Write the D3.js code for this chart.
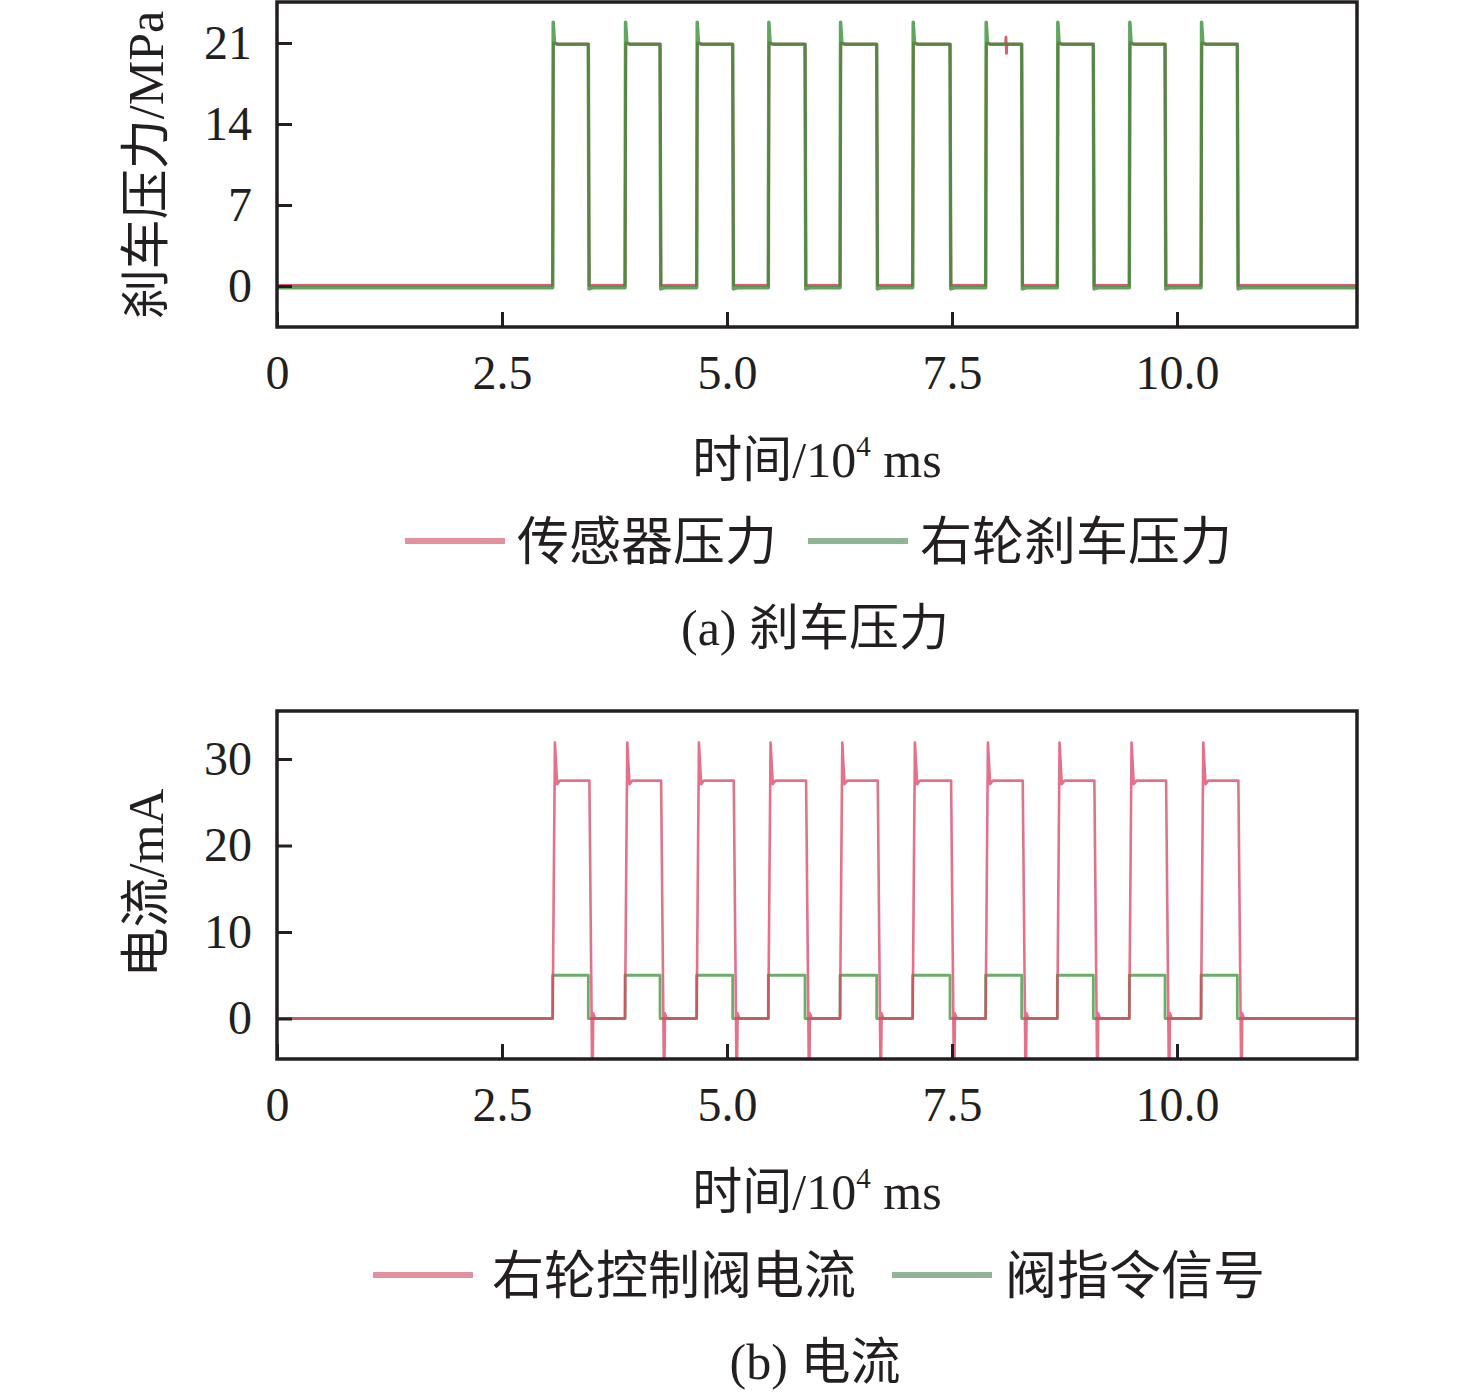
<!DOCTYPE html>
<html lang="zh">
<head>
<meta charset="UTF-8" />
<title>刹车压力与电流</title>
<script src="https://cdn.jsdelivr.net/npm/d3@7"></script>
<style>
  body { margin: 0; background: #fff; overflow: hidden; }
  text { font-family: "Liberation Serif", "Noto Sans CJK SC", serif; fill: #231f20; }
</style>
</head>
<body>
<svg width="1476" height="1400"></svg>
<script>
// edges of the ten valve pulses (10^4 ms)
var riseTimes = [3.063, 3.867, 4.663, 5.459, 6.256, 7.063, 7.874, 8.670, 9.470, 10.267];
var fallTimes = [3.459, 4.256, 5.063, 5.867, 6.663, 7.478, 8.274, 9.070, 9.867, 10.670];

var xDomain = [0, 12];
var xTicks = [0, 2.5, 5, 7.5, 10];
var xTickLabels = ["0", "2.5", "5.0", "7.5", "10.0"];

var pressureDomain = [-3.54, 24.54];
var pressureTicks = [0, 7, 14, 21];
var currentDomain = [-4.68, 35.55];
var currentTicks = [0, 10, 20, 30];

// pulse shapes: [time after edge, value]
var wheelBase = -0.15;
var wheelRise = [[0, -0.15], [0.006, 22.8], [0.02, 21.0], [0.05, 20.9]];
var wheelFall = [[0, 20.9], [0.008, -0.25], [0.05, -0.15]];
var sensorBase = 0.05;
var sensorRise = [[0, 0.05], [0.008, 21.0], [0.05, 20.9]];
var sensorFall = [[0, 20.9], [0.01, 0.05]];
var sensorGlitch = [[8.095, 20.9], [8.10, 21.5], [8.105, 20.1], [8.11, 20.9]];

var currentBase = 0;
var currentRise = [[0, 0], [0.025, 31.9], [0.05, 27.1], [0.08, 27.5]];
var currentFall = [[0.012, 27.5], [0.045, -9], [0.055, 0.6], [0.075, 0]];
var commandBase = 0;
var commandRise = [[0, 0], [0, 5]];
var commandFall = [[0, 5], [0, 0]];

function pulseSeries(base, rise, fall, extra) {
  var pts = [[xDomain[0], base]];
  riseTimes.forEach(function (r, i) {
    rise.forEach(function (p) { pts.push([r + p[0], p[1]]); });
    fall.forEach(function (p) { pts.push([fallTimes[i] + p[0], p[1]]); });
  });
  pts.push([xDomain[1], base]);
  if (extra) pts = pts.concat(extra).sort(function (a, b) { return a[0] - b[0]; });
  return pts;
}

var svg = d3.select("svg");
var left = 277, right = 1357;

var x = d3.scaleLinear().domain(xDomain).range([left, right]);

function drawPanel(cfg) {
  var y = d3.scaleLinear().domain(cfg.domain).range([cfg.bottom, cfg.top]);
  var g = svg.append("g");

  g.append("clipPath").attr("id", cfg.id)
    .append("rect")
    .attr("x", left).attr("y", cfg.top)
    .attr("width", right - left).attr("height", cfg.bottom - cfg.top);

  var line = d3.line()
    .x(function (d) { return x(d[0]); })
    .y(function (d) { return y(d[1]); });

  var plot = g.append("g").attr("clip-path", "url(#" + cfg.id + ")");
  cfg.series.forEach(function (s) {
    plot.append("path")
      .datum(s.data)
      .attr("d", line)
      .attr("fill", "none")
      .attr("stroke", s.color)
      .attr("stroke-width", s.width)
      .attr("stroke-opacity", s.opacity)
      .attr("stroke-linejoin", "round");
  });

  // axes with inward ticks
  var yAxis = g.append("g")
    .attr("transform", "translate(" + left + ",0)")
    .call(d3.axisLeft(y).tickValues(cfg.ticks).tickSizeInner(-15).tickSizeOuter(0).tickPadding(25));
  var xAxis = g.append("g")
    .attr("transform", "translate(0," + cfg.bottom + ")")
    .call(d3.axisBottom(x).tickValues(xTicks)
      .tickFormat(function (d, i) { return xTickLabels[i]; })
      .tickSizeInner(-15).tickSizeOuter(0).tickPadding(28));
  [yAxis, xAxis].forEach(function (a) {
    a.select(".domain").remove();
    a.selectAll(".tick line").attr("stroke", "#231f20").attr("stroke-width", 3);
    a.selectAll(".tick text").attr("font-size", 48).attr("fill", "#231f20")
      .style("font-family", "'Liberation Serif', serif");
  });

  g.append("rect")
    .attr("x", left).attr("y", cfg.top)
    .attr("width", right - left).attr("height", cfg.bottom - cfg.top)
    .attr("fill", "none").attr("stroke", "#231f20").attr("stroke-width", 3.5);

  // y title
  g.append("text")
    .attr("transform", "translate(163," + cfg.yTitleY + ") rotate(-90)")
    .attr("text-anchor", "middle")
    .attr("font-size", 50)
    .text(cfg.yTitle);

  // x title
  var xt = g.append("text")
    .attr("x", 817).attr("y", cfg.bottom + 150)
    .attr("text-anchor", "middle")
    .attr("font-size", 50);
  xt.append("tspan").text("时间/10");
  xt.append("tspan").attr("font-size", 29).attr("dy", -21).text("4");
  xt.append("tspan").attr("dy", 21).text(" ms");

  // legend
  cfg.legend.forEach(function (l) {
    g.append("line")
      .attr("x1", l.x).attr("x2", l.x + 100)
      .attr("y1", cfg.legendY).attr("y2", cfg.legendY)
      .attr("stroke", l.color).attr("stroke-width", 6);
    g.append("text")
      .attr("x", l.x + l.gap).attr("y", cfg.legendY + 19)
      .attr("font-size", 52)
      .text(l.label);
  });

  g.append("text")
    .attr("x", 815).attr("y", cfg.legendY + 104)
    .attr("text-anchor", "middle")
    .attr("font-size", 50)
    .text(cfg.caption);
}

drawPanel({
  id: "clipA", top: 2, bottom: 327,
  domain: pressureDomain, ticks: pressureTicks,
  yTitle: "刹车压力/MPa", yTitleY: 165,
  series: [
    { data: pulseSeries(sensorBase, sensorRise, sensorFall, sensorGlitch), color: "#d9475f", width: 2.8, opacity: 0.9 },
    { data: pulseSeries(wheelBase, wheelRise, wheelFall), color: "#3a8e3a", width: 3.5, opacity: 0.8 }
  ],
  legendY: 541,
  legend: [
    { x: 405, gap: 112, color: "#e3919f", label: "传感器压力" },
    { x: 808, gap: 112, color: "#8fb595", label: "右轮刹车压力" }
  ],
  caption: "(a) 刹车压力"
});

drawPanel({
  id: "clipB", top: 711, bottom: 1059,
  domain: currentDomain, ticks: currentTicks,
  yTitle: "电流/mA", yTitleY: 883,
  series: [
    { data: pulseSeries(commandBase, commandRise, commandFall), color: "#4fa04f", width: 2.8, opacity: 0.85 },
    { data: pulseSeries(currentBase, currentRise, currentFall), color: "#d94263", width: 2.6, opacity: 0.75 }
  ],
  legendY: 1275,
  legend: [
    { x: 373, gap: 119, color: "#e3919f", label: "右轮控制阀电流" },
    { x: 892, gap: 113, color: "#8fb595", label: "阀指令信号" }
  ],
  caption: "(b) 电流"
});
</script>
</body>
</html>
